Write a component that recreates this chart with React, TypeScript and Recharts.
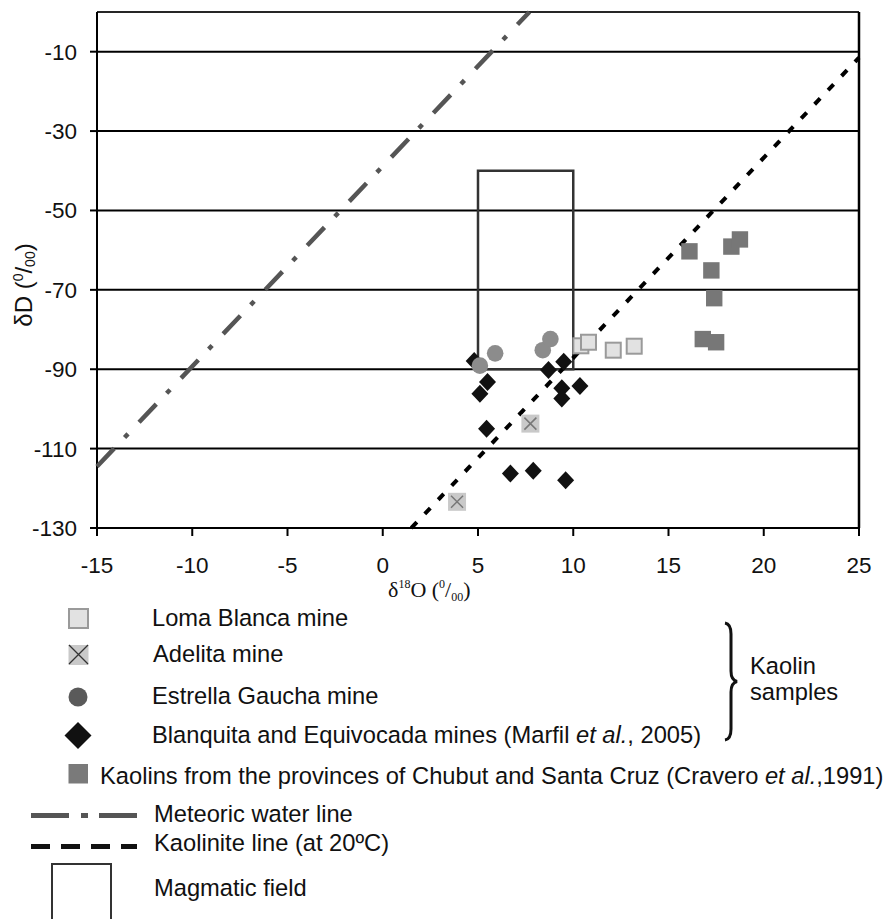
import { ScatterChart, Scatter, XAxis, YAxis, CartesianGrid, ReferenceArea, ReferenceLine } from 'recharts';

const xTicks = [-15, -10, -5, 0, 5, 10, 15, 20, 25];
const yTicks = [-130, -110, -90, -70, -50, -30, -10];

// δ18O (x) / δD (y) pairs
const lomaBlanca = [
  { x: 10.4, y: -84.1 },
  { x: 10.8, y: -83.2 },
  { x: 12.1, y: -85.2 },
  { x: 13.2, y: -84.2 },
];
const adelita = [
  { x: 7.75, y: -103.7 },
  { x: 3.9, y: -123.4 },
];
const estrellaGaucha = [
  { x: 5.1, y: -89.1 },
  { x: 5.9, y: -86.0 },
  { x: 8.4, y: -85.2 },
  { x: 8.8, y: -82.4 },
];
const blanquitaEquivocada = [
  { x: 4.8, y: -87.9 },
  { x: 5.5, y: -93.2 },
  { x: 5.1, y: -96.2 },
  { x: 5.45, y: -105.0 },
  { x: 8.7, y: -90.2 },
  { x: 9.5, y: -88.1 },
  { x: 9.4, y: -94.8 },
  { x: 9.4, y: -97.4 },
  { x: 10.35, y: -94.2 },
  { x: 6.7, y: -116.3 },
  { x: 7.9, y: -115.6 },
  { x: 9.6, y: -118.0 },
];
const chubutSantaCruz = [
  { x: 16.1, y: -60.3 },
  { x: 17.25, y: -65.1 },
  { x: 18.3, y: -59.1 },
  { x: 18.75, y: -57.3 },
  { x: 17.4, y: -72.1 },
  { x: 16.8, y: -82.4 },
  { x: 17.5, y: -83.2 },
];
const meteoricLine = [
  { x: -15, y: -114.5 },
  { x: 7.7, y: 0 },
];
const kaoliniteLine = [
  { x: 1.5, y: -130 },
  { x: 25, y: -11.5 },
];
const magmaticX = [5, 10];
const magmaticY = [-90, -40];

const legendNames = [
  'Loma Blanca mine',
  'Adelita mine',
  'Estrella Gaucha mine',
  'Blanquita and Equivocada mines (Marfil ',
  'Kaolins from the provinces of Chubut and Santa Cruz (Cravero ',
  'Meteoric water line',
  'Kaolinite line (at 20ºC)',
  'Magmatic field',
];

const sans = '"Liberation Sans", Arial, sans-serif';
const serif = '"Liberation Serif", "Times New Roman", serif';

const LomaShape = (p: any) => (
  <rect x={p.cx - 7.5} y={p.cy - 7.5} width={15} height={15} fill="#e2e2e2" stroke="#9a9a9a" strokeWidth={2} />
);
const AdelitaShape = (p: any) => (
  <g>
    <rect x={p.cx - 9} y={p.cy - 9} width={18} height={18} fill="#c9c9c9" />
    <path d={`M${p.cx - 6} ${p.cy - 6} L${p.cx + 6} ${p.cy + 6} M${p.cx + 6} ${p.cy - 6} L${p.cx - 6} ${p.cy + 6}`} stroke="#777" strokeWidth={1.5} />
  </g>
);
const CircleShape = (p: any) => <circle cx={p.cx} cy={p.cy} r={8.3} fill="#8c8c8c" />;
const DiamondShape = (p: any) => (
  <path d={`M${p.cx} ${p.cy - 9} L${p.cx + 8.5} ${p.cy} L${p.cx} ${p.cy + 9} L${p.cx - 8.5} ${p.cy} Z`} fill="#111" />
);
const ChubutShape = (p: any) => <rect x={p.cx - 8.2} y={p.cy - 8.2} width={16.4} height={16.4} fill="#777" />;
const NoShape = () => <g />;

export default function App() {
  return (
    <div style={{ position: 'absolute', left: 0, top: 0, width: 890, height: 919, background: '#fff' }}>
      <ScatterChart width={890} height={919} margin={{ top: 12, right: 31, bottom: 351, left: 0 }}>
        <CartesianGrid horizontal vertical={false} stroke="#000" strokeWidth={2} />
        <XAxis
          type="number"
          dataKey="x"
          domain={[-15, 25]}
          ticks={xTicks}
          interval={0}
          height={40}
          stroke="#000"
          strokeWidth={2}
          tickSize={8}
          tickMargin={21}
          tick={{ fill: '#111', fontSize: 22.5, fontFamily: sans }}
        />
        <YAxis
          type="number"
          dataKey="y"
          domain={[-130, 0]}
          ticks={yTicks}
          interval={0}
          width={97}
          stroke="#000"
          strokeWidth={2}
          tickSize={7}
          tickMargin={13}
          tick={{ fill: '#111', fontSize: 22.5, fontFamily: sans }}
        />
        <ReferenceLine y={0} stroke="#333" strokeWidth={1.5} />
        <ReferenceLine x={25} stroke="#000" strokeWidth={2.5} />
        <ReferenceArea
          x1={magmaticX[0]}
          x2={magmaticX[1]}
          y1={magmaticY[0]}
          y2={magmaticY[1]}
          fill="none"
          fillOpacity={0}
          stroke="#333"
          strokeWidth={2.5}
        />
        <Scatter
          data={meteoricLine}
          isAnimationActive={false}
          shape={NoShape}
          line={{ stroke: '#555', strokeWidth: 4.5, strokeDasharray: '25 15 5 16' }}
        />
        <Scatter
          data={kaoliniteLine}
          isAnimationActive={false}
          shape={NoShape}
          line={{ stroke: '#000', strokeWidth: 4, strokeDasharray: '8 11.5' }}
        />
        <Scatter data={lomaBlanca} isAnimationActive={false} shape={LomaShape} />
        <Scatter data={adelita} isAnimationActive={false} shape={AdelitaShape} />
        <Scatter data={blanquitaEquivocada} isAnimationActive={false} shape={DiamondShape} />
        <Scatter data={estrellaGaucha} isAnimationActive={false} shape={CircleShape} />
        <Scatter data={chubutSantaCruz} isAnimationActive={false} shape={ChubutShape} />
      </ScatterChart>

      <svg width={890} height={919} style={{ position: 'absolute', left: 0, top: 0, pointerEvents: 'none' }}>
        {/* axis titles */}
        <text transform="translate(32,285) rotate(-90)" textAnchor="middle" fontFamily={sans} fontSize={24} fill="#111">
          δD (<tspan fontSize={14} dy={-9}>0</tspan>
          <tspan dy={9}>/</tspan>
          <tspan fontSize={14} dy={3}>00</tspan>
          <tspan dy={-3}>)</tspan>
        </text>
        <text x={388} y={597} fontFamily={serif} fontSize={22} fill="#111">
          δ<tspan fontSize={12} dy={-9}>18</tspan>
          <tspan dy={9}>O (</tspan>
          <tspan fontSize={12} dy={-9}>0</tspan>
          <tspan dy={9}>/</tspan>
          <tspan fontSize={12} dy={4}>00</tspan>
          <tspan dy={-4}>)</tspan>
        </text>

        {/* legend */}
        <g fontFamily={sans} fontSize={23.7} fill="#111">
          <rect x={69} y={609} width={19} height={19} fill="#e2e2e2" stroke="#9a9a9a" strokeWidth={2} />
          <text x={152} y={626}>{legendNames[0]}</text>

          <rect x={68.5} y={645} width={20} height={20} fill="#c9c9c9" />
          <path d="M69 645 L88 664 M88 645 L69 664" stroke="#333" strokeWidth={1.3} />
          <text x={153} y={662}>{legendNames[1]}</text>

          <circle cx={78} cy={697} r={9.5} fill="#5a5a5a" />
          <text x={152} y={704}>{legendNames[2]}</text>

          <path d="M78 722 L91.5 735.5 L78 749 L64.5 735.5 Z" fill="#111" />
          <text x={152} y={743}>
            {legendNames[3]}
            <tspan fontStyle="italic">et al.</tspan>, 2005)
          </text>

          <rect x={68.5} y={764} width={19.5} height={19.5} fill="#7a7a7a" />
          <text x={100} y={784}>
            {legendNames[4]}
            <tspan fontStyle="italic">et al.</tspan>,1991)
          </text>

          <path d="M31 815.5 L69 815.5 M81 815.5 L88 815.5 M99 815.5 L137 815.5" stroke="#555" strokeWidth={5} />
          <text x={154} y={822}>{legendNames[5]}</text>

          <path d="M31 846.5 L137 846.5" stroke="#111" strokeWidth={5} strokeDasharray="19 11" />
          <text x={154} y={851}>{legendNames[6]}</text>

          <rect x={52} y={864} width={59} height={70} fill="none" stroke="#333" strokeWidth={2} />
          <text x={154} y={896}>{legendNames[7]}</text>

          <path
            d="M725 623 Q731 624 731 634 L731 671 Q731 680 737 681.5 Q731 683 731 692 L731 729 Q731 739 725 740"
            fill="none"
            stroke="#111"
            strokeWidth={3}
          />
          <text x={750} y={674}>Kaolin</text>
          <text x={750} y={700}>samples</text>
        </g>
      </svg>
    </div>
  );
}
